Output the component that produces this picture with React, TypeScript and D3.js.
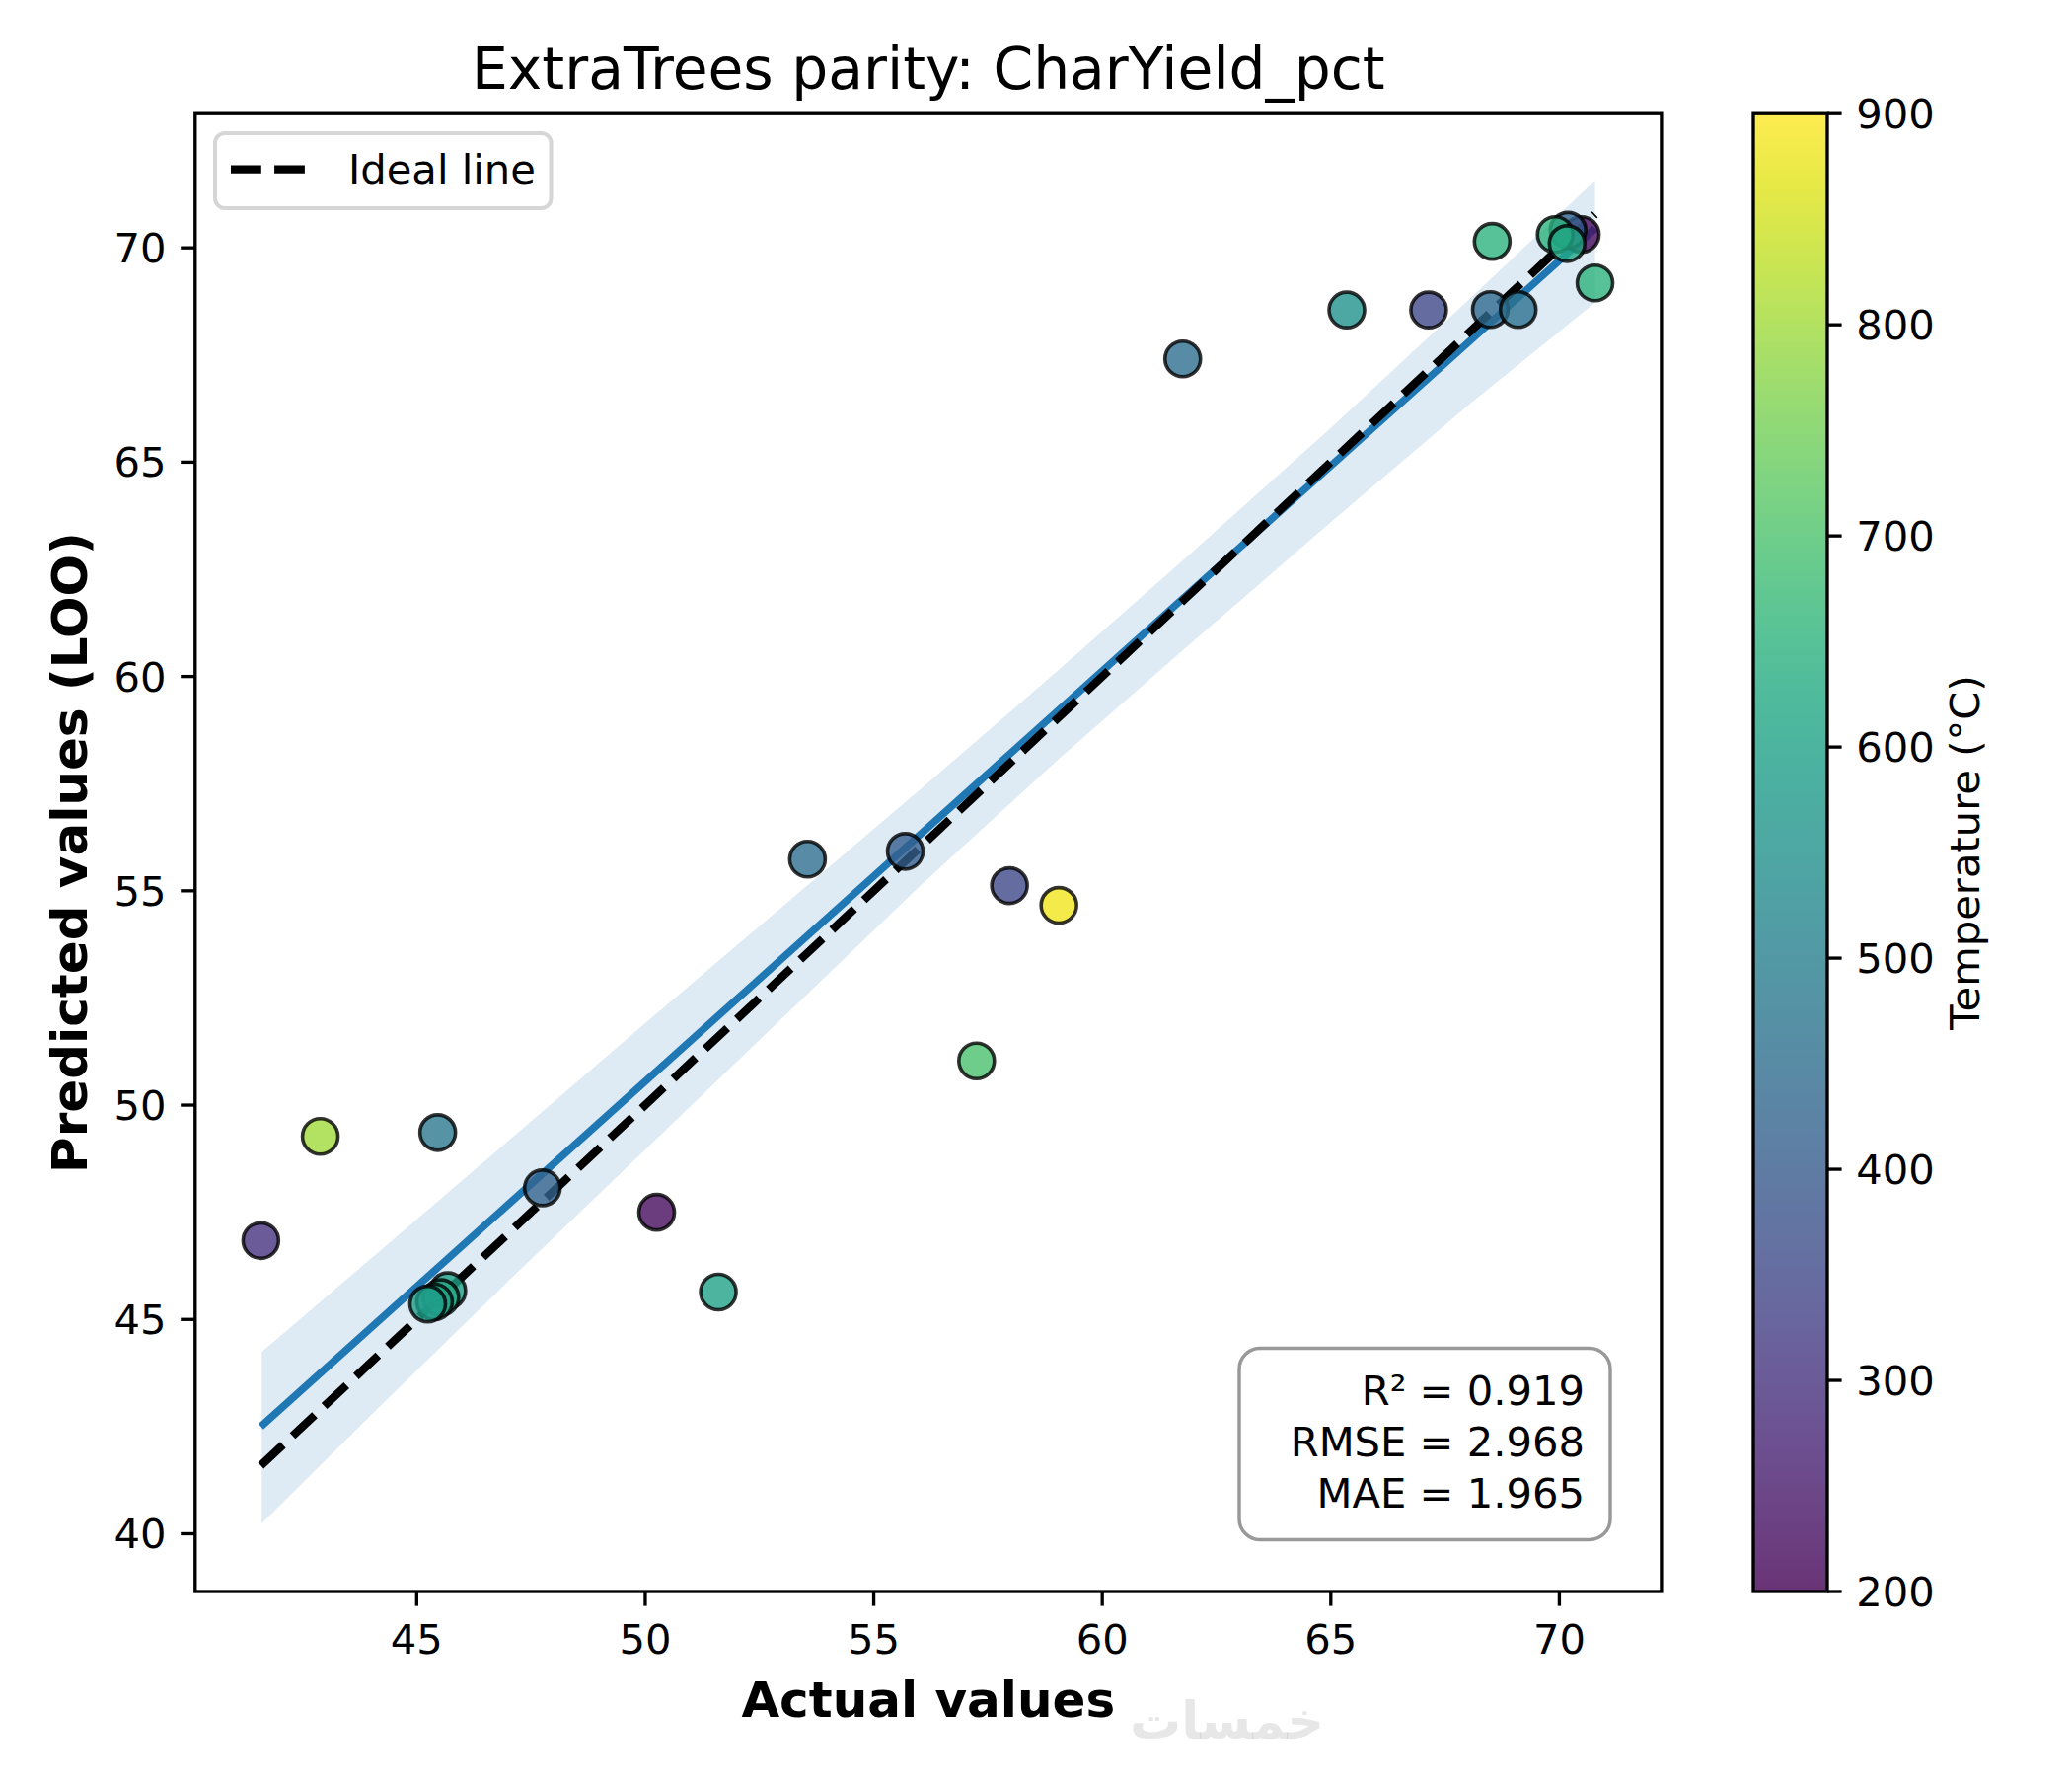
import React from 'react';
import * as d3 from 'd3';

// values
const actual = [
  41.59, 42.89, 45.46, 47.75, 45.68, 45.53, 45.39, 45.24, 50.25, 51.6, 53.55, 55.69,
  57.97, 59.05, 57.25, 61.76, 65.35, 67.14, 68.49, 69.1, 68.53, 70.78, 70.48, 70.19,
  69.91, 70.17,
];
const predicted = [
  46.84, 49.27, 49.36, 48.07, 45.67, 45.51, 45.41, 45.36, 47.5, 45.64, 55.74, 55.92,
  55.12, 54.66, 51.03, 67.41, 68.55, 68.55, 68.56, 68.56, 70.15, 69.18, 70.31, 70.41,
  70.31, 70.1,
];
const temperature = [
  300, 800, 480, 420, 600, 620, 600, 590, 220, 600, 450, 410,
  350, 885, 700, 450, 550, 350, 440, 460, 650, 650, 220, 420,
  650, 620,
];

// fitted trend line and its band
const fitX = [41.59, 70.78];
const fitY = [42.5, 70.45];
const bandX = [41.61, 44, 47, 50, 53, 56, 59, 62, 65, 68, 70.78];
const bandLow = [40.24, 42.77, 45.89, 48.96, 52.03, 55.1, 58.03, 60.83, 63.6, 66.32, 68.72];
const bandHigh = [44.24, 46.42, 49.16, 51.91, 54.63, 57.35, 60.11, 62.93, 65.8, 68.77, 71.57];

const xTicks = [45, 50, 55, 60, 65, 70];
const yTicks = [40, 45, 50, 55, 60, 65, 70];
const cbTicks = [200, 300, 400, 500, 600, 700, 800, 900];
const statLines = ['R\u00b2 = 0.919', 'RMSE = 2.968', 'MAE = 1.965'];

const W = 2100;
const H = 1800;
const L = 197.8, R = 1683.9, T = 115.2, B = 1613;
const CBL = 1777, CBR = 1852;
const FONT = 'DejaVu Sans';
const TICK = 14.6;

const App: React.FC = () => {
  const x = d3.scaleLinear().domain([40.153, 72.234]).range([L, R]);
  const y = d3.scaleLinear().domain([38.653, 73.13]).range([B, T]);
  const c = d3.scaleLinear().domain([200, 900]).range([B, T]);

  const band = d3
    .area<number>()
    .x((d, i) => x(bandX[i]))
    .y0((d, i) => y(bandLow[i]))
    .y1((d, i) => y(bandHigh[i]));
  const line = d3
    .line<number>()
    .x((d, i) => x(fitX[i]))
    .y((d) => y(d));
  const [amin, amax] = d3.extent(actual) as [number, number];
  const ideal = d3
    .line<number>()
    .x((d) => x(d))
    .y((d) => y(d));

  const stops = d3.range(0, 1.0001, 0.05);
  const color = (t: number) => d3.interpolateViridis((t - 200) / 700);

  return (
    <svg
      width={W}
      height={H}
      style={{ position: 'absolute', left: 0, top: 0, background: '#fff' }}
      fontFamily={FONT}
    >
      <defs>
        <linearGradient id="cb" x1="0" y1="1" x2="0" y2="0">
          {stops.map((s) => (
            <stop key={s} offset={s} stopColor={d3.interpolateViridis(s)} />
          ))}
        </linearGradient>
      </defs>
      <rect width={W} height={H} fill="#fff" />

      {/* title */}
      <text x={(L + R) / 2} y={90} fontSize={58.3} textAnchor="middle">
        ExtraTrees parity: CharYield_pct
      </text>

      {/* band, fit line, ideal line */}
      <path d={band(bandX) || ''} fill="#1f77b4" fillOpacity={0.15} />
      <path d={line(fitY) || ''} fill="none" stroke="#1f77b4" strokeWidth={7.5} />
      <path
        d={ideal([amin, amax]) || ''}
        fill="none"
        stroke="#000"
        strokeWidth={8.33}
        strokeDasharray="30.8,13.3"
      />

      {/* points */}
      {actual.map((a, i) => (
        <circle
          key={i}
          cx={x(a)}
          cy={y(predicted[i])}
          r={18}
          fill={color(temperature[i])}
          fillOpacity={0.8}
          stroke="#000"
          strokeOpacity={0.8}
          strokeWidth={3.6}
        />
      ))}

      {/* axes frame */}
      <rect x={L} y={T} width={R - L} height={B - T} fill="none" stroke="#000" strokeWidth={3.33} />
      {xTicks.map((t) => (
        <g key={t}>
          <line x1={x(t)} x2={x(t)} y1={B} y2={B + TICK} stroke="#000" strokeWidth={3.33} />
          <text x={x(t)} y={1676} fontSize={41.67} textAnchor="middle">
            {t}
          </text>
        </g>
      ))}
      {yTicks.map((t) => (
        <g key={t}>
          <line x1={L - TICK} x2={L} y1={y(t)} y2={y(t)} stroke="#000" strokeWidth={3.33} />
          <text x={L - TICK - 14.6} y={y(t)} dy="0.36em" fontSize={41.67} textAnchor="end">
            {t}
          </text>
        </g>
      ))}
      <text x={(L + R) / 2} y={1740} fontSize={50} fontWeight="bold" textAnchor="middle">
        Actual values
      </text>
      <text
        transform={`translate(88,${(T + B) / 2}) rotate(-90)`}
        fontSize={50}
        fontWeight="bold"
        textAnchor="middle"
      >
        Predicted values (LOO)
      </text>

      {/* legend */}
      <rect x={218} y={135} width={340.5} height={76} rx={10} fill="#fff" fillOpacity={0.8} stroke="#d6d6d6" strokeWidth={4} />
      <line x1={234} x2={310} y1={171.7} y2={171.7} stroke="#000" strokeWidth={8.33} strokeDasharray="30.8,13.3" />
      <text x={353} y={186} fontSize={41.67}>
        Ideal line
      </text>

      {/* stats box */}
      <rect x={1256} y={1366.5} width={376} height={194} rx={21} fill="#fff" fillOpacity={0.8} stroke="#999" strokeWidth={3.5} />
      {statLines.map((s, i) => (
        <text key={s} x={1606} y={1423.7 + i * 52} fontSize={41.67} textAnchor="end">
          {s}
        </text>
      ))}

      {/* colorbar */}
      <rect x={CBL} y={T} width={CBR - CBL} height={B - T} fill="url(#cb)" fillOpacity={0.8} />
      <rect x={CBL} y={T} width={CBR - CBL} height={B - T} fill="none" stroke="#000" strokeWidth={3.33} />
      {cbTicks.map((t) => (
        <g key={t}>
          <line x1={CBR} x2={CBR + TICK} y1={c(t)} y2={c(t)} stroke="#000" strokeWidth={3.33} />
          <text x={CBR + TICK + 14.6} y={c(t)} dy="0.36em" fontSize={41.67}>
            {t}
          </text>
        </g>
      ))}
      <text
        transform={`translate(2006,${(T + B) / 2}) rotate(-90)`}
        fontSize={41.67}
        textAnchor="middle"
      >
        Temperature (°C)
      </text>

      {/* faint watermark */}
      <text x={1145} y={1762} fontSize={52} fontWeight="bold" textAnchor="start" fill="#b0b0b0" fillOpacity={0.3}>
        خمسات
      </text>
    </svg>
  );
};

export default App;
